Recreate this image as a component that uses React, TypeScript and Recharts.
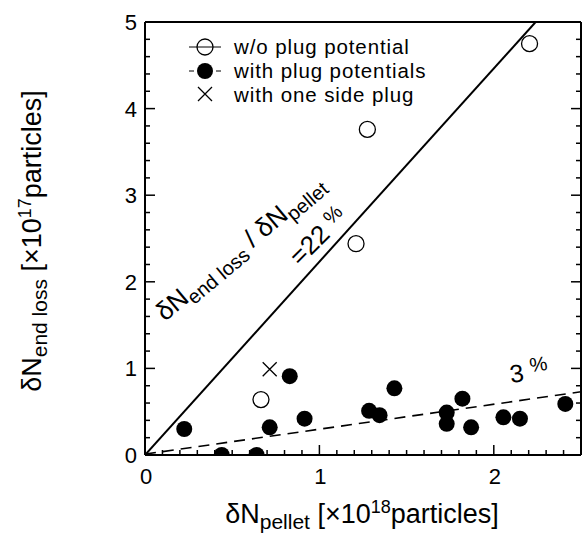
import React from "react";
import { ScatterChart, Scatter, XAxis, YAxis, Customized } from "recharts";

const FONT = '"Liberation Sans", Arial, Helvetica, sans-serif';

// w/o plug potential (open circles)
const woPlugX = [0.665, 1.21, 1.275, 2.205];
const woPlugY = [0.64, 2.44, 3.76, 4.75];

// with plug potentials (filled circles)
const plugX = [0.225, 0.44, 0.64, 0.715, 0.83, 0.915, 1.285, 1.345, 1.43, 1.73, 1.73, 1.82, 1.87, 2.055, 2.15, 2.41];
const plugY = [0.3, 0.0, 0.0, 0.32, 0.91, 0.42, 0.51, 0.46, 0.77, 0.49, 0.36, 0.65, 0.32, 0.435, 0.42, 0.59];

// with one side plug (cross)
const oneSideX = [0.715];
const oneSideY = [0.99];

// ratio lines: 22 % (solid) and 3 % (dashed)
const line22X = [0, 2.24];
const line22Y = [0, 5];
const line3X = [0, 2.5];
const line3Y = [0.01, 0.73];

// ticks: labelled majors plus inward minor ticks
const xTickLabels = [0, 1, 2];
const xTicks = Array.from({ length: 26 }, (_, i) => +(i * 0.1).toFixed(1));
const yTickLabels = [0, 1, 2, 3, 4, 5];
const yTicks = Array.from({ length: 26 }, (_, i) => +(i * 0.2).toFixed(1));

const legendLabels = ["w/o plug potential", "with plug potentials", "with one side plug"];

const zip = (xs: number[], ys: number[]) => xs.map((x, i) => ({ x, y: ys[i] }));

const woPlugData = zip(woPlugX, woPlugY);
const plugData = zip(plugX, plugY);
const oneSideData = zip(oneSideX, oneSideY);
const line22Data = zip(line22X, line22Y);
const line3Data = zip(line3X, line3Y);

const noShape = () => <g />;

const FilledDot = (p: any) => <circle cx={p.cx} cy={p.cy} r={8} fill="#000" />;
const OpenDot = (p: any) => (
  <circle cx={p.cx} cy={p.cy} r={8} fill="none" stroke="#000" strokeWidth={1.3} />
);
const Cross = (p: any) => (
  <path
    d={`M${p.cx - 7},${p.cy - 7}L${p.cx + 7},${p.cy + 7}M${p.cx - 7},${p.cy + 7}L${p.cx + 7},${p.cy - 7}`}
    stroke="#000"
    strokeWidth={1.3}
  />
);

const isMajor = (v: number) => Math.abs(v - Math.round(v)) < 1e-6;
const tickLen = (v: number) => (isMajor(v) ? 10 : 5);

// one renderer per side: an inward tick line, and the number where the reference has one
const makeTick = (side: "bottom" | "top" | "left" | "right", labels: number[]) => (props: any) => {
  const { x, y, payload } = props;
  const v = payload.value as number;
  const len = tickLen(v);
  if (v === 0 && (side === "top" || side === "right")) return <g />;
  let line;
  if (side === "bottom") line = <line x1={x} x2={x} y1={y} y2={y - len} stroke="#000" strokeWidth={1.5} />;
  else if (side === "top") line = <line x1={x} x2={x} y1={y} y2={y + len} stroke="#000" strokeWidth={1.5} />;
  else if (side === "left") line = <line x1={x} x2={x + len} y1={y} y2={y} stroke="#000" strokeWidth={1.5} />;
  else line = <line x1={x} x2={x - len} y1={y} y2={y} stroke="#000" strokeWidth={1.5} />;
  const showLabel = labels.includes(v);
  return (
    <g>
      {line}
      {showLabel && side === "bottom" && (
        <text x={x + 1} y={y + 29} textAnchor="middle" fontSize={22} fontFamily={FONT} fill="#000">
          {v}
        </text>
      )}
      {showLabel && side === "left" && (
        <text x={x - 8} y={y + 8} textAnchor="end" fontSize={22} fontFamily={FONT} fill="#000">
          {v}
        </text>
      )}
    </g>
  );
};

const frame = { stroke: "#000", strokeWidth: 2 };

const Annotations = () => (
  <g fontFamily={FONT} fill="#000">
    {/* legend */}
    <line x1={189} x2={221} y1={47} y2={47} stroke="#000" strokeWidth={1} />
    <circle cx={205} cy={47} r={8} fill="none" stroke="#000" strokeWidth={1.3} />
    <line x1={189} x2={194} y1={71} y2={71} stroke="#000" strokeWidth={1} />
    <line x1={216} x2={221} y1={71} y2={71} stroke="#000" strokeWidth={1} />
    <circle cx={205} cy={71} r={8} fill="#000" />
    <Cross cx={205} cy={94} />
    {legendLabels.map((t, i) => (
      <text key={t} x={234} y={54 + i * 24} fontSize={20.5} letterSpacing={0.9}>
        {t}
      </text>
    ))}

    {/* line labels */}
    <text transform="translate(165,322) rotate(-40)" fontSize={26}>
      <tspan>δN</tspan>
      <tspan fontSize={20} dy={6}>end loss</tspan>
      <tspan dy={-6}> / δN</tspan>
      <tspan fontSize={20} dy={6}>pellet</tspan>
    </text>
    <text transform="translate(300,267) rotate(-45)" fontSize={26}>
      <tspan>=22 </tspan>
      <tspan fontSize={20} dy={-7}>%</tspan>
    </text>
    <text transform="translate(511,383) rotate(-8)" fontSize={25}>
      <tspan>3 </tspan>
      <tspan fontSize={20} dy={-8}>%</tspan>
    </text>

    {/* axis titles */}
    <text x={362} y={523} textAnchor="middle" fontSize={27}>
      <tspan>δN</tspan>
      <tspan fontSize={21} dy={6}>pellet</tspan>
      <tspan dy={-6}> [×10</tspan>
      <tspan fontSize={18} dy={-10}>18</tspan>
      <tspan dy={10}>particles]</tspan>
    </text>
    <text transform="translate(41,241) rotate(-90)" textAnchor="middle" fontSize={27}>
      <tspan>δN</tspan>
      <tspan fontSize={21} dy={6}>end loss</tspan>
      <tspan dy={-6}> [×10</tspan>
      <tspan fontSize={18} dy={-10}>17</tspan>
      <tspan dy={10}>particles]</tspan>
    </text>
  </g>
);

export default function App() {
  return (
    <div style={{ position: "absolute", left: 0, top: 0, width: 582, height: 540, background: "#fff" }}>
      <ScatterChart width={582} height={540} margin={{ top: 21, right: 0, bottom: 84, left: 144 }}>
        <XAxis
          xAxisId="x"
          type="number"
          dataKey="x"
          domain={[0, 2.5]}
          allowDataOverflow
          ticks={xTicks}
          interval={0}
          height={1}
          tickSize={0}
          tickMargin={0}
          tickLine={false}
          axisLine={frame}
          tick={makeTick("bottom", xTickLabels)}
        />
        <XAxis
          xAxisId="top"
          orientation="top"
          type="number"
          domain={[0, 2.5]}
          allowDataOverflow
          ticks={xTicks}
          interval={0}
          height={1}
          tickSize={0}
          tickMargin={0}
          tickLine={false}
          axisLine={frame}
          tick={makeTick("top", [])}
        />
        <YAxis
          yAxisId="y"
          type="number"
          dataKey="y"
          domain={[0, 5]}
          allowDataOverflow
          ticks={yTicks}
          interval={0}
          width={1}
          tickSize={0}
          tickMargin={0}
          tickLine={false}
          axisLine={frame}
          tick={makeTick("left", yTickLabels)}
        />
        <YAxis
          yAxisId="right"
          orientation="right"
          type="number"
          domain={[0, 5]}
          allowDataOverflow
          ticks={yTicks}
          interval={0}
          width={1}
          tickSize={0}
          tickMargin={0}
          tickLine={false}
          axisLine={frame}
          tick={makeTick("right", [])}
        />

        <Scatter xAxisId="x" yAxisId="y" data={line22Data} line={{ stroke: "#000", strokeWidth: 2 }}
          shape={noShape} isAnimationActive={false} />
        <Scatter xAxisId="x" yAxisId="y" data={line3Data}
          line={{ stroke: "#000", strokeWidth: 1.6, strokeDasharray: "11 7" }}
          shape={noShape} isAnimationActive={false} />
        <Scatter xAxisId="x" yAxisId="y" name="w/o plug potential" data={woPlugData} shape={OpenDot}
          isAnimationActive={false} />
        <Scatter xAxisId="x" yAxisId="y" name="with plug potentials" data={plugData} shape={FilledDot}
          isAnimationActive={false} />
        <Scatter xAxisId="x" yAxisId="y" name="with one side plug" data={oneSideData} shape={Cross}
          isAnimationActive={false} />

        <Customized component={Annotations} />
      </ScatterChart>
    </div>
  );
}
